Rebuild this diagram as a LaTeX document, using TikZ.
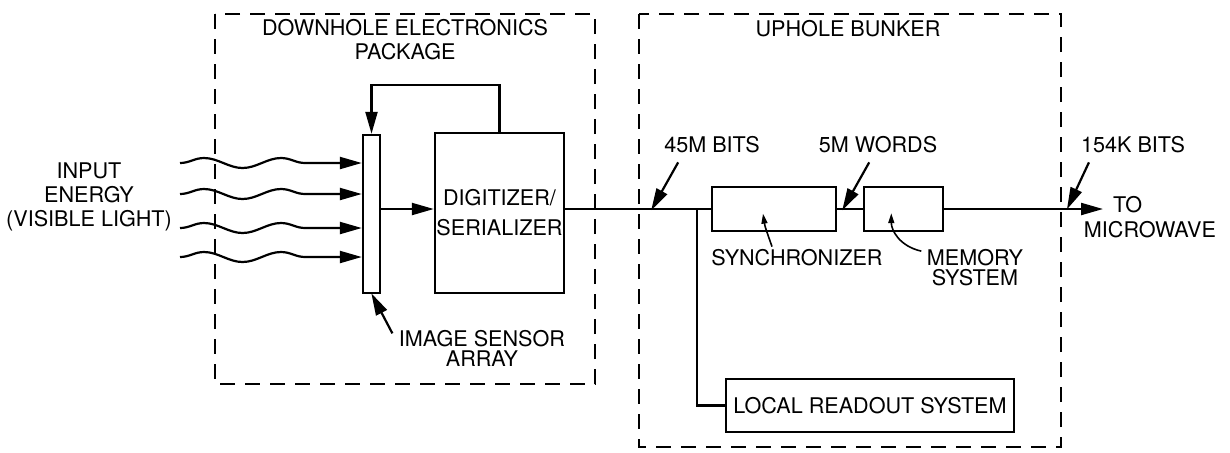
\documentclass[tikz,border=0pt]{standalone}
\usepackage{fontspec}
\setmainfont{TeX Gyre Heros}
\usetikzlibrary{arrows.meta,decorations.pathmorphing,calc}
\tikzstyle{block}=[draw, rectangle, inner sep=0pt, line width=1.2pt]
\tikzstyle{frame}=[line width=1.2pt, dash pattern=on 7.5pt off 5pt]
\tikzstyle{txt}=[inner sep=0pt, align=center]
\tikzstyle{arr}=[-{Triangle[length=11pt,width=6pt]}]
\tikzstyle{ptr}=[-{Triangle[length=5pt,width=3pt]}, line width=0.8pt]
\tikzstyle{wave}=[arr, decorate, decoration={snake, segment length=38.5pt, amplitude=2.5pt, post length=11pt}]

\begin{document}
\begin{tikzpicture}[x=0.5pt, y=-0.5pt, line width=1.1pt, font=\fontsize{10.8}{12}\selectfont]
    \useasboundingbox (0,0) rectangle (1230,452);
    % dashed frames
    \draw[frame] (215,14) rectangle (595,384);
    \draw[frame] (639,14) rectangle (1061,447);
    \node[txt] (down) at (405,40) {DOWNHOLE ELECTRONICS\\PACKAGE};
    \node[txt] (up)   at (848,29) {UPHOLE BUNKER};
    \node[txt] (input) at (89,197) {INPUT\\ENERGY\\(VISIBLE LIGHT)};
    % blocks
    \node[block, minimum width=8.5pt, minimum height=79pt] (sensor) at (371.5,214) {};
    \node[block, minimum width=64.5pt, minimum height=80pt, align=center,
          font=\fontsize{10.8}{15}\selectfont] (digit) at (499.5,213) {DIGITIZER/\\SERIALIZER};
    \node[block, minimum width=62pt, minimum height=22pt] (sync) at (774,209) {};
    \node[block, minimum width=39.5pt, minimum height=22pt] (mem) at (903.5,209) {};
    \node[block, minimum width=144pt, minimum height=26.5pt] (readout) at (870,405.5) {LOCAL READOUT SYSTEM};
    % labels
    \node[txt] (lsync) at (797,258) {SYNCHRONIZER};
    \node[txt, font=\fontsize{10.8}{10}\selectfont] (lmem) at (975,268) {MEMORY\\SYSTEM};
    \node[txt, font=\fontsize{10.8}{10}\selectfont] (lsensor) at (482,348) {IMAGE SENSOR\\ARRAY};
    \node[txt] (l45)  at (712,145)  {45M BITS};
    \node[txt] (l5m)  at (878,145)  {5M WORDS};
    \node[txt] (l154) at (1133,145) {154K BITS};
    \node[txt, anchor=west] (lto) at (1112,205) {TO};
    \node[txt] (lmicro) at (1150,230) {MICROWAVE};
    \coordinate (tap) at (697,209);
    \coordinate (out) at (1103,209);
    % light input
    \foreach \y [count=\i] in {163,194,228,257} {
        \coordinate (in\i) at (180,\y);
        \draw[wave] (in\i) -- (in\i -| sensor.west);
    }
    \draw[arr] (sensor.east |- tap) -- (digit.west |- tap);
    \draw[arr] (digit.north) -- ++(0,-47) -| (sensor.north);
    \draw (digit.east |- tap) -- (sync.west);
    \draw (tap) |- (readout.west);
    \draw (sync.east) -- (mem.west);
    \draw[arr] (mem.east) -- (out);
    % pointers
    \draw[arr] ($(l45.south west)+(15,8)$) -- ++(-27,48);
    \draw[arr] ($(l5m.south west)+(51.5,8)$) -- ++(-27,48);
    \draw[arr] ($(l154.south west)+(9,8)$) -- ++(-22,47);
    \draw[arr] ($(lsensor.north west)+(-5.5,4.5)$) -- ++(-21,-40);
    \draw[ptr] ($(lsync.north)+(-25,-2)$) .. controls +(-7,-20) .. +(-9,-33);
    \draw[ptr] ($(lmem.north west)+(-4.5,2.5)$) .. controls +(-22,-5) and +(0,17) .. +(-30,-38);
\end{tikzpicture}
\end{document}
